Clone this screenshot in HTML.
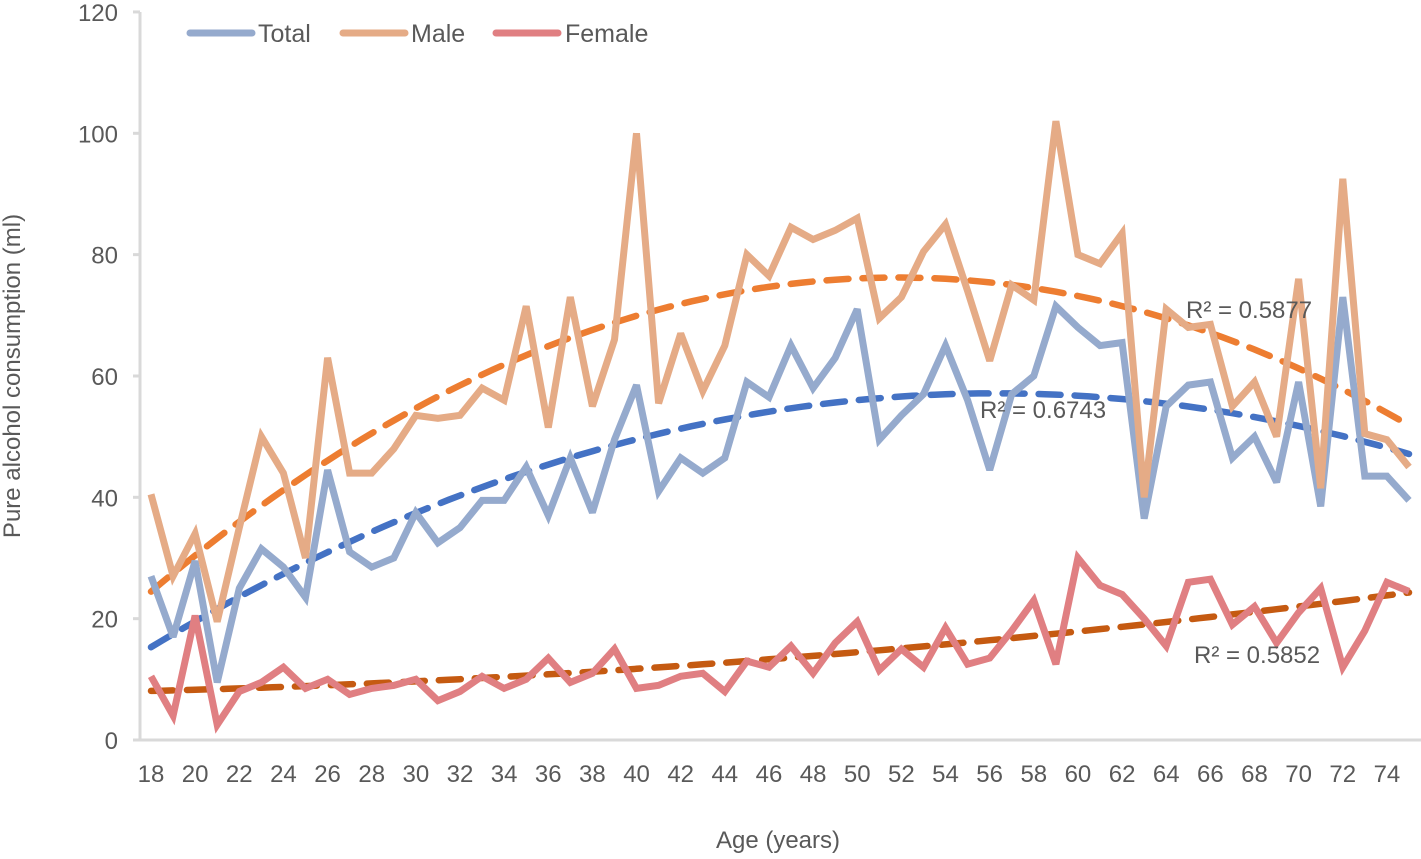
<!DOCTYPE html>
<html><head><meta charset="utf-8"><style>
html,body{margin:0;padding:0;background:#fff;}
svg text{font-family:"Liberation Sans",sans-serif;fill:#595959;}
</style></head><body>
<svg id="chart" width="1421" height="854" xmlns="http://www.w3.org/2000/svg">
<g id="grid"></g>
<g id="trends"></g>
<g id="series"></g>
<g id="labels"></g>
</svg>
<script>
const ages = [];
for (let a = 18; a <= 75; a++) ages.push(a);
const totalValues = [27,17,29.5,9.5,25,31.5,28.5,23.5,44.5,31,28.5,30,37.5,32.5,35,39.5,39.5,45,37,46.5,37.5,49.5,58.5,41,46.5,44,46.5,59,56.5,65,58,63,71,49.5,53.5,57,65,56,44.5,57,60,71.5,68,65,65.5,36.5,55,58.5,59,46.5,50,42.5,59,38.5,73,43.5,43.5,39.5];
const maleValues = [40.5,27,34,19.5,35,50,44,30,63,44,44,48,53.5,53,53.5,58,56,71.5,51.5,73,55,66,100,55.5,67,57.5,65,80,76.5,84.5,82.5,84,86,69.5,73,80.5,85,74,62.5,75,72.5,102,80,78.5,83.5,40,71,68,68.5,55,59,50,76,41.5,92.5,50.5,49.5,45];
const femaleValues = [10.5,4,20.5,2.5,8,9.5,12,8.5,10,7.5,8.5,9,10,6.5,8,10.5,8.5,10,13.5,9.5,11,15,8.5,9,10.5,11,8,13,12,15.5,11,16,19.5,11.5,15,12,18.5,12.5,13.5,18,23,12.5,30,25.5,24,20,15.5,26,26.5,19,22,16,21,25,12,18,26,24.5];
const yTicks = [0,20,40,60,80,100,120];
const xTicks = [18,20,22,24,26,28,30,32,34,36,38,40,42,44,46,48,50,52,54,56,58,60,62,64,66,68,70,72,74];
const r2Labels = ["R² = 0.6743","R² = 0.5877","R² = 0.5852"];

const NS="http://www.w3.org/2000/svg";
const X = a => 151 + (a-18)*22.07;
const Y = v => 740 - v*6.067;
function mk(tag, attrs, parent){const e=document.createElementNS(NS,tag);for(const k in attrs)e.setAttribute(k,attrs[k]);parent.appendChild(e);return e;}
const grid=document.getElementById('grid'), trends=document.getElementById('trends'), series=document.getElementById('series'), labels=document.getElementById('labels');

let ax=mk('line',{x1:140,y1:12,x2:140,y2:741,stroke:'#d9d9d9','stroke-width':3},grid);


let bx=mk('line',{x1:139,y1:740,x2:1421,y2:740,stroke:'#d9d9d9','stroke-width':3},grid);


yTicks.forEach(v=>{
  const t=mk('line',{x1:133,y1:Y(v),x2:140,y2:Y(v),stroke:'#d9d9d9','stroke-width':3},grid);
  
  
  const l=mk('text',{x:118,y:Y(v)+9,'text-anchor':'end','font-size':24},labels);
  l.textContent=v;
  
  
});
xTicks.forEach(a=>{
  const l=mk('text',{x:X(a),y:782,'text-anchor':'middle','font-size':24},labels);
  l.textContent=a;
  
  
});

function quadFit(xs, ys){
  let s=[0,0,0,0,0], t=[0,0,0];
  xs.forEach((x,i)=>{let p=1;for(let k=0;k<5;k++){s[k]+=p;if(k<3)t[k]+=p*ys[i];p*=x;}});
  const M=[[s[0],s[1],s[2],t[0]],[s[1],s[2],s[3],t[1]],[s[2],s[3],s[4],t[2]]];
  for(let i=0;i<3;i++){for(let j=i+1;j<3;j++){const f=M[j][i]/M[i][i];for(let k=i;k<4;k++)M[j][k]-=f*M[i][k];}}
  const c=[0,0,0];
  for(let i=2;i>=0;i--){let v=M[i][3];for(let k=i+1;k<3;k++)v-=M[i][k]*c[k];c[i]=v/M[i][i];}
  return x=>c[0]+c[1]*x+c[2]*x*x;
}
const cfg=[
  {vals:totalValues,color:'#95aacd',trend:'#4472c4',name:'total'},
  {vals:maleValues,color:'#e5ab86',trend:'#ed7d31',name:'male'},
  {vals:femaleValues,color:'#e07f82',trend:'#c55a11',name:'female'}
];
cfg.forEach(c=>{
  const f=quadFit(ages,c.vals);
  let d='';
  for(let a=18;a<=75;a+=0.5)d+=(a===18?'M':'L')+X(a).toFixed(1)+','+Y(f(a)).toFixed(1);
  const p=mk('path',{d:d,fill:'none',stroke:c.trend,'stroke-width':6.5,'stroke-dasharray':'22 14','stroke-linecap':'round'},trends);
  
  
});
cfg.forEach(c=>{
  const d=c.vals.map((v,i)=>(i?'L':'M')+X(ages[i]).toFixed(1)+','+Y(v).toFixed(1)).join('');
  const p=mk('path',{d:d,fill:'none',stroke:c.color,'stroke-width':7,'stroke-linejoin':'miter','stroke-miterlimit':3},series);
  
  
});
const r2pos=[[980,418],[1186,318],[1194,663]];
r2Labels.forEach((s,i)=>{
  const l=mk('text',{x:r2pos[i][0],y:r2pos[i][1],'font-size':24},labels);
  l.textContent=s;
  
  
});
// legend
const leg=[['Total','#95aacd',190,258],['Male','#e5ab86',343,411],['Female','#e07f82',496,565]];
leg.forEach(e=>{
  const g=mk('g',{},labels);
  
  
  mk('line',{x1:e[2],y1:33,x2:e[2]+62,y2:33,stroke:e[1],'stroke-width':7,'stroke-linecap':'round'},g);
  const t=mk('text',{x:e[3],y:42,'font-size':25},g);t.textContent=e[0];
});
const xt=mk('text',{x:778,y:848,'text-anchor':'middle','font-size':24},labels);
xt.textContent='Age (years)';


const yt=mk('text',{x:0,y:0,'text-anchor':'middle','font-size':24,transform:'translate(20,376) rotate(-90)'},labels);
yt.textContent='Pure alcohol consumption (ml)';


</script>
</body></html>
